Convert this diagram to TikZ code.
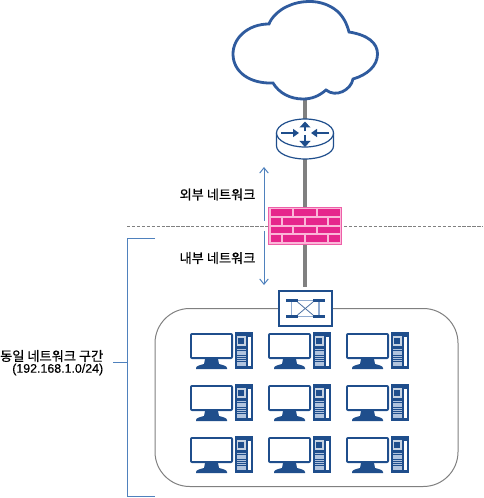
\documentclass[tikz,border=0pt]{standalone}
\usepackage{fontspec}
\setmainfont[FakeBold=0.6]{Noto Sans CJK KR}
\newfontfamily\latinlab[FakeBold=0.4]{Liberation Sans}
\usetikzlibrary{arrows.meta}
\definecolor{navy}{HTML}{1F4E8C}
\definecolor{cloudblue}{HTML}{2F5B9E}
\definecolor{arrowblue}{HTML}{4F81BD}
\definecolor{linkgray}{HTML}{808080}
\definecolor{brick}{HTML}{E6268C}
\definecolor{brickbg}{HTML}{FBB6D8}
\definecolor{brickedge}{HTML}{EE5FA8}
\definecolor{lightnavy}{HTML}{8FAAD0}
\tikzset{
  x=0.75pt,y=-0.75pt,
  link/.style={draw=linkgray,line width=2.4pt},
  lab/.style={font=\fontsize{9.9pt}{11pt}\selectfont,inner sep=0pt,align=center,text=black},
  bar/.style={fill=navy,draw=none},
  flow/.style={draw=navy,line width=1.3pt,-{Triangle[length=4.5pt,width=6pt]}},
  flowv/.style={draw=navy,line width=2pt,-{Triangle[length=4.5pt,width=8pt]}},
  pc/.pic={
    \fill[navy,rounded corners=1.5pt] (0,0) rectangle (43,26);
    \fill[white] (2.2,2.2) rectangle (40.8,23.8);
    \fill[navy] (15,26) -- (28,26) -- (29,31) .. controls (33,32) and (37,33) .. (37,35) -- (37,36) -- (6,36) -- (6,35) .. controls (6,33) and (10,32) .. (14,31) -- cycle;
    \fill[navy] (45,-1) rectangle (63,36);
    \draw[white!75!navy,line width=0.8pt] (47.5,4) rectangle (55,12);
    \fill[white] (58.3,3.7) rectangle (60.7,32.7);
    \foreach \r in {0,...,7} {\fill[lightnavy!70!white] (47.3,{16+2.2*\r}) rectangle (56,{17.4+2.2*\r});}
  }
}
\begin{document}
\begin{tikzpicture}
\useasboundingbox (0,0) rectangle (483,498);
% positions
\coordinate (cloudS) at (305,100);
\coordinate (routerN) at (305,119);
\coordinate (routerS) at (305,159);
\coordinate (dashL) at (127,226);
\coordinate (dashR) at (483,226);
% dashed boundary
\draw[linkgray,line width=0.5pt,dash pattern=on 2.5pt off 1.2pt] (dashL) -- (dashR);
% LAN box
\node[draw=linkgray,line width=0.75pt,rounded corners=26pt,minimum width=227.25pt,minimum height=133.5pt,inner sep=0pt] (lan) at (306.5,397.5) {};
% nodes
\node[minimum width=55.5pt,minimum height=28.5pt,inner sep=0pt] (fw) at (305,226) {};
\node[draw=navy,fill=white,line width=1.2pt,minimum width=39.5pt,minimum height=26.5pt,inner sep=0pt] (sw) at (305.5,308.5) {};
% links
\draw[link] (cloudS) -- (routerN);
\draw[link] (routerS) -- (fw.north);
\draw[link] (fw.south) -- (305,287);
% cloud
\draw[cloudblue,line width=2.1pt,fill=white]
 (269,24) .. controls (271,18) and (279,10) .. (287,6.5)
 .. controls (294,3) and (302,1.5) .. (310,1.5)
 .. controls (320,1.5) and (330,5) .. (337,11)
 .. controls (343,16) and (347,24) .. (349,32)
 .. controls (368,35) and (377.5,43) .. (377.5,54)
 .. controls (377.5,66) and (367,75) .. (353,79)
 .. controls (351,90) and (336,98) .. (326,90)
 .. controls (319,96) and (312,99) .. (303,99)
 .. controls (290,99) and (279,93) .. (273,83)
 .. controls (250,84) and (233,72) .. (233,54)
 .. controls (233,38) and (248,24) .. (269,24) -- cycle;
% router
\draw[navy,line width=0.9pt,fill=white] (276.5,133) -- (276.5,146) arc[start angle=180,end angle=0,x radius=28.5,y radius=13] -- (333.5,133);
\draw[navy,line width=0.9pt,fill=white] (305,133) ellipse[x radius=28.5,y radius=14];
\draw[flow] (281,133) -- (299,133);
\draw[flow] (329,133) -- (311,133);
\draw[flowv] (305,131.5) -- (305,121.5);
\draw[flowv] (305,135) -- (305,147);
% firewall
\draw[brickedge,line width=0.8pt,fill=brickbg] (268.5,207.5) rectangle (341.5,244.5);
\foreach \ya/\yb in {209.5/216,227/233.5} {
  \fill[brick] (271,\ya) rectangle (292.3,\yb);
  \fill[brick] (294,\ya) rectangle (316,\yb);
  \fill[brick] (318,\ya) rectangle (339.5,\yb);
}
\foreach \ya/\yb in {218/225,235.5/242} {
  \fill[brick] (271,\ya) rectangle (280.7,\yb);
  \fill[brick] (282.7,\ya) rectangle (304,\yb);
  \fill[brick] (306,\ya) rectangle (327.3,\yb);
  \fill[brick] (329,\ya) rectangle (339.5,\yb);
}
% switch icon
\draw[lightnavy,line width=1pt] (291.7,301) -- (291.7,316) (319,301) -- (319,316) (296,300.5) -- (313,300.5) (296,316.5) -- (313,316.5);
\draw[navy!80!white,line width=0.6pt] (297.5,302) -- (313,315) (313,302) -- (297.5,315);
\fill[bar] (285.7,299) rectangle (297.7,302.3);
\fill[bar] (312.7,299) rectangle (324.7,302.3);
\fill[bar] (285.7,315) rectangle (297.7,318.3);
\fill[bar] (312.7,315) rectangle (324.7,318.3);
% PCs
\foreach \c in {190,268,346} \foreach \r in {333,385,437} { \pic at (\c,\r) {pc}; }
% span arrows
\coordinate (extT) at (264,167);
\coordinate (extB) at (264,221);
\coordinate (intT) at (264,231);
\coordinate (intB) at (264,285);
\draw[draw=arrowblue,line width=0.75pt,{Straight Barb[length=4pt,width=6.5pt]}-] (extT) -- (extB);
\draw[draw=arrowblue,line width=0.75pt,-{Straight Barb[length=4pt,width=6.5pt]}] (intT) -- (intB);
% bracket
\coordinate (brT) at (155,239);
\coordinate (brB) at (155,496);
\coordinate (brM) at (127,362);
\coordinate (brL) at (113,362);
\draw[arrowblue,line width=0.75pt] (brT) -- (127,239) -- (127,496) -- (brB);
\draw[arrowblue,line width=0.75pt] (brL) -- (brM);
% labels
\node[lab] (l1) at (217.5,194.5) {외부 네트워크};
\node[lab] (l2) at (217.5,258) {내부 네트워크};
\node[lab,anchor=east] (l3) at (103.5,356) {동일 네트워크 구간};
\node[lab,anchor=east,font=\fontsize{9.3pt}{10.5pt}\selectfont\latinlab] (l4) at (103.5,369.5) {(192.168.1.0/24)};
\end{tikzpicture}
\end{document}
